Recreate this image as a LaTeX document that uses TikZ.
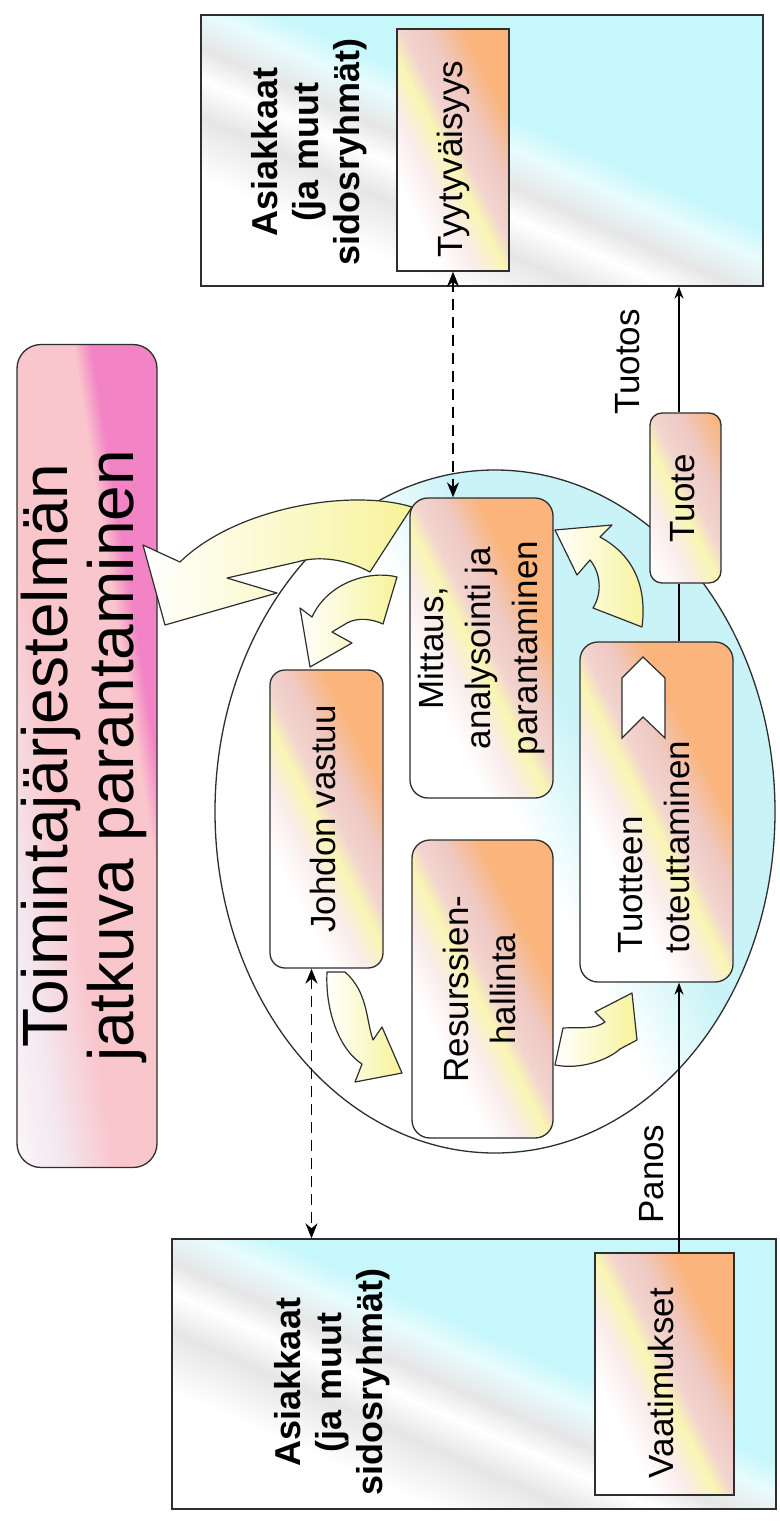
\documentclass[tikz,border=0pt]{standalone}
\usepackage{fontspec}
\setmainfont{Liberation Sans}
\usepackage{graphicx}
\usetikzlibrary{arrows.meta,shapes.geometric}

\definecolor{linecol}{HTML}{2E2E2E}
\definecolor{boxorange}{HTML}{FAB47C}
\definecolor{boxpink}{HTML}{EFC9C3}
\definecolor{custcyan}{HTML}{C6F7FB}
\definecolor{custgrey}{HTML}{E6E6E6}
\definecolor{ellcyan}{HTML}{C9F3F7}
\definecolor{fatyellow}{HTML}{F7F39A}
\definecolor{titlepink}{HTML}{F283C5}
\definecolor{titlelight}{HTML}{F9C6CC}
\definecolor{titlepale}{HTML}{F4E8F0}
\colorlet{boxpale}{boxpink!35!white}
\colorlet{boxstreak}{fatyellow!75!white}
\colorlet{boxmid}{boxpink!80!white}
\colorlet{custpale}{custcyan!40!white}

\pgfdeclarehorizontalshading{boxshade}{100bp}{color(0bp)=(white); color(42bp)=(white); color(46bp)=(boxpale); color(49bp)=(boxstreak); color(51bp)=(boxmid); color(54bp)=(boxpink); color(58bp)=(boxorange); color(100bp)=(boxorange)}
\pgfdeclarehorizontalshading{custshade}{100bp}{color(0bp)=(white); color(40bp)=(white); color(44bp)=(custgrey); color(46.5bp)=(white); color(48.5bp)=(custgrey); color(51bp)=(custpale); color(53bp)=(custcyan); color(100bp)=(custcyan)}
\pgfdeclarehorizontalshading{ellshade}{100bp}{color(0bp)=(white); color(51bp)=(white); color(58bp)=(ellcyan); color(100bp)=(ellcyan)}
\pgfdeclarehorizontalshading{titleshade}{100bp}{color(0bp)=(white); color(41bp)=(white); color(45bp)=(titlepale); color(48bp)=(titlelight); color(52.8bp)=(titlelight); color(53.8bp)=(titlepink); color(100bp)=(titlepink)}

\newcommand{\boxfont}{\fontsize{35}{47}\selectfont}
\newcommand{\titlefont}{\fontsize{64}{64}\selectfont}
\newcommand{\custfont}{\bfseries\fontsize{36}{41}\selectfont}
\newcommand{\vlines}[1]{\rotatebox{90}{\begin{tabular}{@{}c@{}}#1\end{tabular}}}
\newcommand{\vleft}[2]{\rotatebox{90}{\begin{tabular}{@{}p{#1}@{}}#2\end{tabular}}}

\tikzset{
  gradfill/.style n args={3}{path picture={\shade[shading=#1,shading angle=#2] ([shift={(-#3,-#3)}]path picture bounding box.center) rectangle ([shift={(#3,#3)}]path picture bounding box.center);}}
}

\begin{document}
\begin{tikzpicture}[x=1pt,y=-1pt,
  flowbox/.style={draw=linecol,line width=1.3pt,rounded corners=18pt,gradfill={boxshade}{27}{200pt},inner sep=0pt,font=\boxfont},
  custbox/.style={draw=linecol,line width=1.3pt,gradfill={custshade}{66}{350pt},inner sep=0pt},
  reqbox/.style={draw=linecol,line width=1.3pt,gradfill={boxshade}{27}{200pt},inner sep=0pt,font=\boxfont},
  custtext/.style={inner sep=0pt,font=\custfont},
  fatarrow/.style={draw=linecol,line width=1.2pt,line join=round,left color=white,right color=fatyellow},
  twoway/.style={line width=1.6pt,dash pattern=on 11pt off 7pt,{Stealth[length=15pt,width=12pt]}-{Stealth[length=15pt,width=12pt]}},
  flowline/.style={line width=1.3pt,-{Stealth[length=12pt,width=9pt]}},
  flowlabel/.style={rotate=90,anchor=south,inner sep=0pt,font=\boxfont}]
\fill[white] (0,0) rectangle (779,1528);
\useasboundingbox (0,0) rectangle (779,1528);

\node[flowbox,rounded corners=24pt,gradfill={titleshade}{9}{450pt},minimum width=140pt,minimum height=823pt,font=\titlefont] (title) at (87,756) {\vlines{Toimintajärjestelmän\\jatkuva parantaminen}};

\node[custbox,minimum width=562pt,minimum height=271pt] (topcust) at (482,150.5) {};
\node[custtext] (toptext) at (310,152) {\vlines{Asiakkaat\\(ja muut\\sidosryhmät)}};
\node[reqbox,minimum width=112pt,minimum height=242pt] (tyyt) at (453,150) {\vleft{214pt}{Tyytyväisyys}\hspace{22pt}};

\node[custbox,minimum width=604pt,minimum height=270pt] (bottcust) at (474,1374) {};
\node[custtext] (bottext) at (333,1382) {\vlines{Asiakkaat\\(ja muut\\sidosryhmät)}};
\node[reqbox,minimum width=139pt,minimum height=242pt] (vaat) at (664.5,1374) {\vleft{208pt}{Vaatimukset}\hspace{28pt}};

\node[ellipse,draw=linecol,line width=1.3pt,gradfill={ellshade}{27}{350pt},minimum width=560pt,minimum height=683pt,inner sep=0pt] (core) at (495,811.5) {};

\node[flowbox,rounded corners=15pt,minimum width=113pt,minimum height=298pt] (johdon) at (326.5,819) {\vlines{Johdon vastuu}};
\node[flowbox,minimum width=143pt,minimum height=300pt] (mittaus) at (481.5,648) {\vlines{Mittaus,\\analysointi ja\\parantaminen}};
\node[flowbox,minimum width=141pt,minimum height=298pt] (resurssit) at (482.5,989) {\vlines{Resurssien-\\hallinta}};
\node[flowbox,minimum width=153pt,minimum height=340pt] (toteutus) at (656.5,812) {\vleft{282pt}{Tuotteen\\toteuttaminen}};
\node[flowbox,rounded corners=12pt,minimum width=71pt,minimum height=170pt] (tuote) at (685.5,498) {\vlines{Tuote}};
\draw[fill=white,draw=linecol,line width=1.2pt] (622,678) -- (643,657) -- (665,678) -- (665,738) -- (643,717) -- (622,738) -- cycle;

\draw[fatarrow] (327,972) .. controls (325,1012) and (340,1050) .. (362,1064) -- (355,1082) -- (402,1073) -- (382,1027) -- (373,1040) .. controls (366,1020) and (368,992) .. (345,972) -- cycle;
\draw[fatarrow] (555,1065) .. controls (580,1070) and (608,1060) .. (620,1049) -- (637,1040) -- (632,993) -- (595,1012) -- (605,1022) .. controls (594,1030) and (578,1027) .. (563,1028) -- cycle;
\draw[fatarrow] (555,530) -- (612,525) -- (600,537) .. controls (628,552) and (648,580) .. (642,627) -- (593,608) .. controls (603,592) and (600,572) .. (590,560) -- (577,575) -- cycle;
\draw[fatarrow] (397,577) .. controls (370,570) and (328,582) .. (312,617) -- (300,608) -- (310,667) -- (352,643) -- (332,632) -- (347,623) .. controls (358,617) and (372,619) .. (383,624) -- cycle;
\draw[fatarrow] (412,507) .. controls (350,488) and (235,508) .. (180,562) -- (143,545) -- (165,625) -- (277,593) -- (227,578) -- (297,562) .. controls (320,555) and (348,560) .. (370,572) -- cycle;

\coordinate (axis) at (679,0);
\draw[twoway] (tyyt.south) -- (tyyt.south |- mittaus.north);
\draw[twoway] ([xshift=-15pt]johdon.south) -- ([xshift=-15pt]johdon.south |- bottcust.north);
\draw[flowline] (axis |- vaat.north) -- node[flowlabel,pos=0.29,outer sep=15pt] {Panos} (axis |- toteutus.south);
\draw[line width=1.3pt] (axis |- toteutus.north) -- (axis |- tuote.south);
\draw[flowline] (axis |- tuote.north) -- node[flowlabel,pos=0.4,outer sep=39pt] {Tuotos} (axis |- topcust.south);
\end{tikzpicture}
\end{document}
